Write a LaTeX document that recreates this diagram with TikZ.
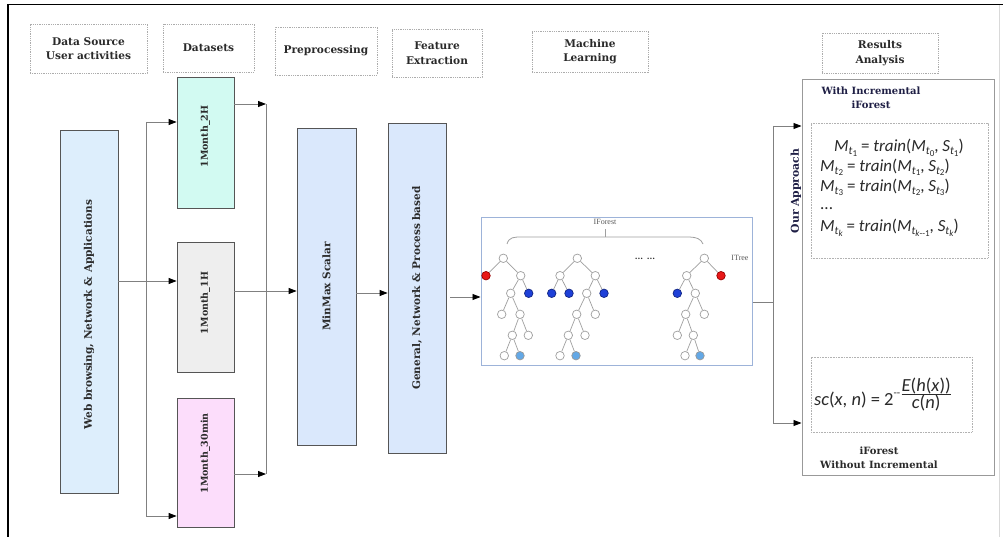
\documentclass[tikz,border=0pt]{standalone}
\usepackage{fontspec}
\setmainfont{DejaVu Serif}
\newfontfamily\eqf{Carlito}
\newfontfamily\tms{Liberation Serif}
\usetikzlibrary{arrows.meta}
\definecolor{webc}{HTML}{DDEEFC}
\definecolor{ctwoh}{HTML}{D2FAF2}
\definecolor{coneh}{HTML}{EEEEEE}
\definecolor{cthirty}{HTML}{FCDDFB}
\definecolor{blc}{HTML}{DAE8FC}
\definecolor{bordc}{HTML}{555555}
\definecolor{lnc}{HTML}{808080}
\definecolor{rdc}{HTML}{E81818}
\definecolor{blu}{HTML}{1E40D8}
\definecolor{lbl}{HTML}{63A8E6}
\definecolor{treeb}{HTML}{9DB3D9}
\definecolor{txt}{HTML}{2A2A2A}
\definecolor{navy}{HTML}{1F1F45}
\newcommand\Mt[2]{\textit{#1}\raisebox{-2.8pt}{\fontsize{11.5}{12}\selectfont\textit{t}\raisebox{-1.5pt}{\fontsize{9}{10}\selectfont #2}}}
\tikzset{
  hbox/.style={draw=gray!65, dash pattern=on 0.9pt off 0.9pt, line width=0.8pt, align=center,
    font=\bfseries\fontsize{10.6}{14.5}\selectfont, text=txt, inner sep=0},
  mbox/.style={draw=bordc, line width=0.8pt, inner sep=0},
  rbox/.style={draw=gray!80, line width=1pt, inner sep=0},
  dbox/.style={draw=gray!60, dash pattern=on 0.8pt off 0.8pt, line width=0.7pt, inner sep=0},
  arr/.style={draw=lnc, line width=0.8pt, -{Triangle[length=8pt,width=6pt,color=black]}},
  ln/.style={draw=lnc, line width=0.8pt},
  vtext/.style={rotate=90, font=\bfseries\fontsize{10.5}{12}\selectfont, text=txt, inner sep=0},
  dtext/.style={rotate=90, font=\bfseries\fontsize{9.5}{12}\selectfont, text=txt, inner sep=0},
  tn/.style={circle, draw=gray!75, line width=0.7pt, fill=white, minimum size=8.5pt, inner sep=0},
  te/.style={draw=gray!75, line width=0.7pt},
  eq/.style={font=\eqf\fontsize{17}{19}\selectfont, text=txt, inner sep=0},
  eqb/.style={font=\eqf\fontsize{18.5}{20}\selectfont, text=txt, inner sep=0},
  rtext/.style={font=\bfseries\fontsize{10}{14}\selectfont, text=navy, inner sep=0, align=center},
  small/.style={font=\tms\fontsize{8}{9}\selectfont, text=gray!70!black, inner sep=0}
}
\begin{document}
\begin{tikzpicture}[x=1pt,y=-1pt]
\useasboundingbox (0,0) rectangle (1003,537);
\fill[white] (0,0) rectangle (1003,537);
% frame
\draw[black, line width=1.5pt] (8,537) -- (8,4.5) -- (1003,4.5);
\draw[gray!30, line width=0.8pt] (999.5,5) -- (999.5,537);

% headers
\node[hbox, minimum width=117pt, minimum height=49pt] (h1) at (88.5,48.5) {Data Source\\User activities};
\node[hbox, minimum width=91pt, minimum height=48pt] (h2) at (208.5,48) {Datasets};
\node[hbox, minimum width=102pt, minimum height=48pt] (h3) at (326,51) {Preprocessing};
\node[hbox, minimum width=90pt, minimum height=48pt] (h4) at (437,53) {Feature\\Extraction};
\node[hbox, minimum width=116pt, minimum height=41pt] (h5) at (590,51.5) {Machine\\Learning};
\node[hbox, minimum width=116pt, minimum height=40pt] (h6) at (880,53) {Results\\Analysis};

% main boxes
\node[mbox, fill=webc, minimum width=58pt, minimum height=363pt,
  label={[yshift=-3pt, vtext]center:Web browsing, Network \& Applications}] (web) at (89,311.5) {};
\node[mbox, fill=ctwoh, minimum width=57pt, minimum height=131pt,
  label={[yshift=6pt, dtext]center:1Month\_2H}] (d2h) at (205.5,142.5) {};
\node[mbox, fill=coneh, minimum width=57pt, minimum height=130pt,
  label={[yshift=4pt, dtext]center:1Month\_1H}] (d1h) at (205.5,307) {};
\node[mbox, fill=cthirty, minimum width=57pt, minimum height=129pt,
  label={[yshift=9pt, dtext]center:1Month\_30min}] (d30) at (205.5,462.5) {};
\node[mbox, fill=blc, minimum width=59pt, minimum height=317pt,
  label={[vtext]center:MinMax Scalar}] (mm) at (326.5,286.5) {};
\node[mbox, fill=blc, minimum width=58pt, minimum height=330pt,
  label={[vtext]center:General, Network \& Process based}] (fe) at (417,288) {};
\node[draw=treeb, line width=1pt, minimum width=271pt, minimum height=147pt, inner sep=0] (tree) at (616.5,291.5) {};
\node[rbox, minimum width=192pt, minimum height=395pt] (res) at (898,277.5) {};
\node[dbox, minimum width=177pt, minimum height=135pt] (in1) at (899.5,190.5) {};
\node[dbox, minimum width=161pt, minimum height=75pt] (in2) at (891.5,394.5) {};

% connector coordinates
\coordinate (sp) at (146,281);
\coordinate (spT) at (146,122);
\coordinate (spB) at (146,516);
\coordinate (mT) at (266,104);
\coordinate (mB) at (266,474);
\coordinate (c1h) at (266,291);
\coordinate (cmm) at (370,293);
\coordinate (cfe) at (465,297);
\coordinate (rs) at (773,302);
\coordinate (rT) at (773,126);
\coordinate (rB) at (773,423);

\draw[ln] (web.east |- sp) -- (sp);
\draw[ln] (spT) -- (spB);
\draw[arr] (spT) -- (d2h.west |- spT);
\draw[arr] (sp) -- (d1h.west |- sp);
\draw[arr] (spB) -- (d30.west |- spB);
\draw[arr] (d2h.east |- mT) -- (mT);
\draw[arr] (d30.east |- mB) -- (mB);
\draw[ln] (mT) -- (mB);
\draw[arr] (d1h.east |- c1h) -- (mm.west |- c1h);
\draw[arr] (mm.east |- cmm) -- (fe.west |- cmm);
\draw[arr, shorten <=4pt] (fe.east |- cfe) -- (tree.west |- cfe);
\draw[ln] (tree.east |- rs) -- (rs);
\draw[ln] (rT) -- (rB);
\draw[arr] (rT) -- (res.west |- rT);
\draw[arr] (rB) -- (res.west |- rB);

% results texts
\node[rtext] (wi) at (871,98) {With Incremental\\iForest};
\node[rotate=90, font=\bfseries\fontsize{10.8}{12}\selectfont, text=navy, inner sep=0] (oa) at (796,191) {Our Approach};
\node[eq, anchor=base west] (e1) at (834,152) {\Mt{M}{1} = \textit{train}(\Mt{M}{0}, \Mt{S}{1})};
\node[eq, anchor=base west] (e2) at (820,171.5) {\Mt{M}{2} = \textit{train}(\Mt{M}{1}, \Mt{S}{2})};
\node[eq, anchor=base west] (e3) at (820,191.5) {\Mt{M}{3} = \textit{train}(\Mt{M}{2}, \Mt{S}{3})};
\node[eq, anchor=base west] (e4) at (820,210) {...};
\node[eq, anchor=base west] (e5) at (820,232) {\Mt{M}{\textit{k}} = \textit{train}(\Mt{M}{\textit{k}--1}, \Mt{S}{\textit{k}})};
\node[eqb, anchor=base west] (sc) at (814,405) {\textit{sc}(\textit{x}, \textit{n}) = 2\raisebox{9pt}{\fontsize{11}{12}\selectfont --}\raisebox{6pt}{$\mbox{\textit{E}(\textit{h}(\textit{x}))}\over\mbox{\textit{c}(\textit{n})}$}};
\node[rtext, text=txt] (wo) at (879,458) {iForest\\Without Incremental};

% forest labels
\node[small] (ifl) at (605,222) {IForest};
\node[small] (itl) at (740,258) {ITree};
\node[font=\bfseries\fontsize{8}{9}\selectfont, text=txt, inner sep=0] (dots) at (645,259) {... ...};
\draw[gray!75, line width=0.8pt] (507,244) .. controls (509,237) and (514,237) .. (522,237) -- (687,237) .. controls (697,237) and (701,239) .. (703,244);
\draw[gray!75, line width=0.8pt] (605,237) -- (605,229);

% tree 1
\node[tn] (a0) at (503.3,258.3) {};
\node[tn, fill=rdc, draw=red!60!black] (a1) at (486,275.7) {};
\node[tn] (a2) at (520.7,275.7) {};
\node[tn] (a3) at (510.7,293.3) {};
\node[tn, fill=blu, draw=blu!60!black] (a4) at (528.7,293.3) {};
\node[tn] (a5) at (501.7,314.3) {};
\node[tn] (a6) at (520,314.3) {};
\node[tn] (a7) at (512.3,335.3) {};
\node[tn] (a8) at (528.3,335.3) {};
\node[tn] (a9) at (504.3,355.7) {};
\node[tn, fill=lbl, draw=gray!80] (a10) at (520,355.7) {};
\foreach \u/\v in {a0/a1,a0/a2,a2/a3,a2/a4,a3/a5,a3/a6,a6/a7,a6/a8,a7/a9,a7/a10}
  \draw[te] (\u) -- (\v);
% tree 2
\node[tn] (b0) at (577.3,258.3) {};
\node[tn] (b1) at (560,275.7) {};
\node[tn] (b2) at (595.3,275.7) {};
\node[tn, fill=blu, draw=blu!60!black] (b3) at (551.7,293.3) {};
\node[tn, fill=blu, draw=blu!60!black] (b4) at (569,293.3) {};
\node[tn] (b5) at (586.7,293.3) {};
\node[tn, fill=blu, draw=blu!60!black] (b6) at (604,293.3) {};
\node[tn] (b7) at (576.7,314.3) {};
\node[tn] (b8) at (595.3,314.3) {};
\node[tn] (b9) at (568.3,335.3) {};
\node[tn] (b10) at (585,335.3) {};
\node[tn] (b11) at (560,355.7) {};
\node[tn, fill=lbl, draw=gray!80] (b12) at (576,355.7) {};
\foreach \u/\v in {b0/b1,b0/b2,b1/b3,b1/b4,b2/b5,b2/b6,b5/b7,b5/b8,b7/b9,b7/b10,b9/b11,b9/b12}
  \draw[te] (\u) -- (\v);
% tree 3
\node[tn] (c0) at (704.3,258.3) {};
\node[tn] (c1) at (686.7,275.7) {};
\node[tn, fill=rdc, draw=red!60!black] (c2) at (721,275.7) {};
\node[tn, fill=blu, draw=blu!60!black] (c3) at (677.3,293.3) {};
\node[tn] (c4) at (695.3,293.3) {};
\node[tn] (c5) at (685.7,314.3) {};
\node[tn] (c6) at (704.3,314.3) {};
\node[tn] (c7) at (677.3,335.3) {};
\node[tn] (c8) at (693.3,335.3) {};
\node[tn] (c9) at (685,355.7) {};
\node[tn, fill=lbl, draw=gray!80] (c10) at (700,355.7) {};
\foreach \u/\v in {c0/c1,c0/c2,c1/c3,c1/c4,c4/c5,c4/c6,c5/c7,c5/c8,c8/c9,c8/c10}
  \draw[te] (\u) -- (\v);
\end{tikzpicture}
\end{document}
